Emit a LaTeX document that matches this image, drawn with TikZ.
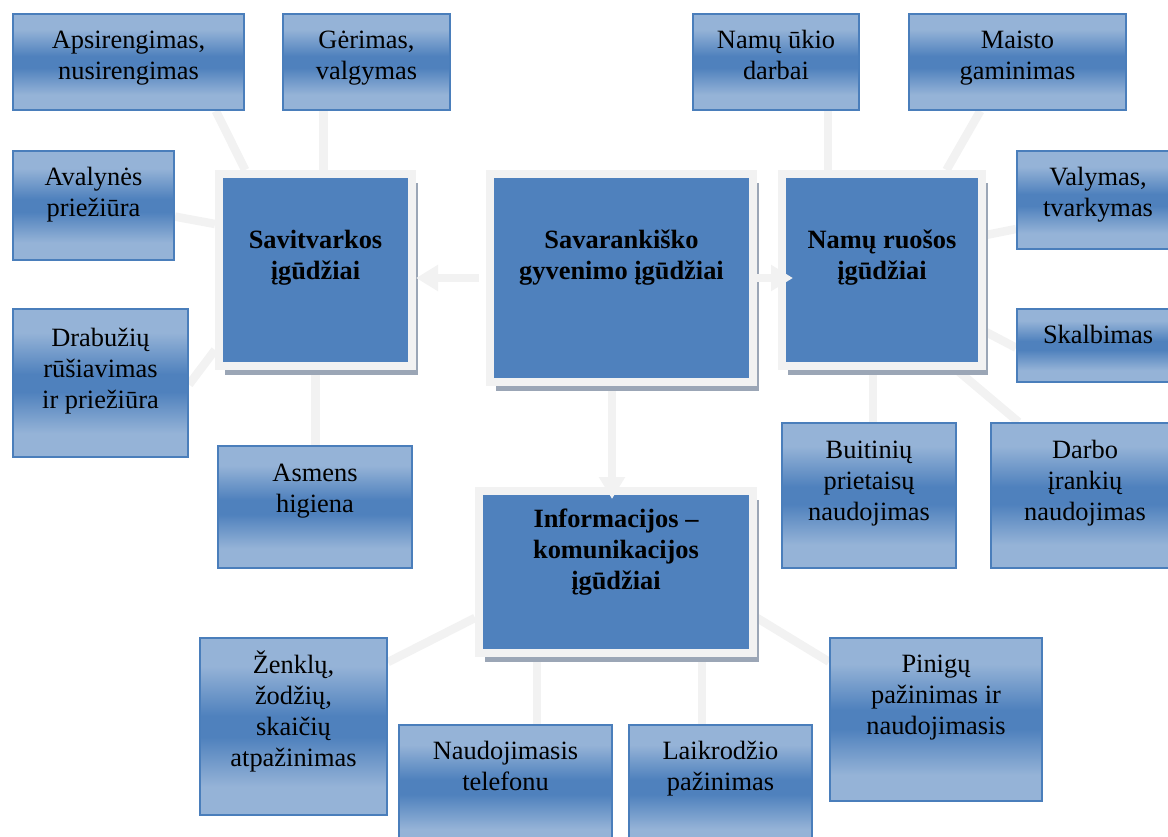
\documentclass[tikz,border=0pt]{standalone}
\usepackage{fontspec}
\setmainfont{Liberation Serif}
\usetikzlibrary{calc,shadows,arrows.meta}
\definecolor{leaftop}{HTML}{95B3D7}
\definecolor{leafmid}{HTML}{4F81BD}
\definecolor{leafline}{HTML}{4A7EBB}
\definecolor{mainc}{HTML}{4F81BD}
\definecolor{framec}{HTML}{F2F2F2}
\definecolor{shadowc}{HTML}{9BA6B6}
\pgfdeclareverticalshading{leafshade}{100bp}{color(0bp)=(leaftop); color(33bp)=(leaftop); color(47bp)=(leafmid); color(53bp)=(leafmid); color(67bp)=(leaftop); color(100bp)=(leaftop)}
\pgfdeclarelayer{background}
\pgfsetlayers{background,main}
\tikzset{
% Two box styles: gradient leaf boxes and framed skill boxes
leaf/.style={draw=leafline,line width=2pt,shading=leafshade,inner sep=0pt},
skill/.style={draw=framec,line width=8pt,fill=mainc,inner sep=0pt,
 drop shadow={shadow xshift=6pt,shadow yshift=-9pt,fill=shadowc,opacity=1}},
txt/.style={anchor=base,align=center,font=\fontsize{26.4}{31}\selectfont},
bold txt/.style={txt,font=\fontsize{26.4}{31}\selectfont\bfseries},
link/.style={draw=framec,line width=8.5pt},
big arrow/.style={draw=framec,line width=8pt,-{Triangle[length=22pt,width=25pt]}}
}
\begin{document}
\begin{tikzpicture}[x=1pt,y=-1pt]
\useasboundingbox (0,0) rectangle (1168,836);
% skill boxes
\node(savit)[skill,minimum width=193pt,minimum height=192pt,label={[bold txt,yshift=-109pt]north:{Savitvarkos\\ įgūdžiai}}] at (315.5,270) {};
\node(savar)[skill,minimum width=263pt,minimum height=208pt,label={[bold txt,yshift=-109pt]north:{Savarankiško\\ gyvenimo įgūdžiai}}] at (621.5,278) {};
\node(namu)[skill,minimum width=200pt,minimum height=192pt,label={[bold txt,yshift=-109pt]north:{Namų ruošos\\ įgūdžiai}}] at (882,270) {};
\node(info)[skill,minimum width=274pt,minimum height=162pt,label={[bold txt,yshift=-102pt]north:{Informacijos --\\ komunikacijos\\ įgūdžiai}}] at (616,572) {};
% leaf boxes
\node(apsi)[leaf,minimum width=231pt,minimum height=96pt,label={[txt,yshift=-66pt]north:{Apsirengimas,\\ nusirengimas}}] at (128.5,62) {};
\node(gerim)[leaf,minimum width=167pt,minimum height=96pt,label={[txt,yshift=-66pt]north:{Gėrimas,\\ valgymas}}] at (366.5,62) {};
\node(avaly)[leaf,minimum width=161pt,minimum height=109pt,label={[txt,yshift=-66pt]north:{Avalynės\\ priežiūra}}] at (93.5,205.5) {};
\node(drab)[leaf,minimum width=175pt,minimum height=148pt,label={[txt,yshift=-100pt]north:{Drabužių\\ rūšiavimas\\ ir priežiūra}}] at (100.5,383) {};
\node(asmens)[leaf,minimum width=194pt,minimum height=122pt,label={[txt,yshift=-67pt]north:{Asmens\\ higiena}}] at (315,507) {};
\node(zenkl)[leaf,minimum width=187pt,minimum height=177pt,label={[txt,yshift=-129pt]north:{Ženklų,\\ žodžių,\\ skaičių\\ atpažinimas}}] at (293.5,726.5) {};
\node(telef)[leaf,minimum width=213pt,minimum height=124pt,label={[txt,yshift=-66pt]north:{Naudojimasis\\ telefonu}}] at (505.5,787) {};
\node(laik)[leaf,minimum width=183pt,minimum height=124pt,label={[txt,yshift=-66pt]north:{Laikrodžio\\ pažinimas}}] at (720.5,787) {};
\node(pinig)[leaf,minimum width=212pt,minimum height=163pt,label={[txt,yshift=-97pt]north:{Pinigų\\ pažinimas ir\\ naudojimasis}}] at (936,719.5) {};
\node(namuk)[leaf,minimum width=166pt,minimum height=96pt,label={[txt,yshift=-66pt]north:{Namų ūkio\\ darbai}}] at (776,62) {};
\node(maist)[leaf,minimum width=217pt,minimum height=96pt,label={[txt,yshift=-66pt]north:{Maisto\\ gaminimas}}] at (1017.5,62) {};
\node(valym)[leaf,minimum width=162pt,minimum height=98pt,label={[txt,yshift=-66pt]north:{Valymas,\\ tvarkymas}}] at (1098,200) {};
\node(skalb)[leaf,minimum width=162pt,minimum height=73pt,label={[txt,yshift=-35pt]north:{Skalbimas}}] at (1098,345.5) {};
\node(buit)[leaf,minimum width=174pt,minimum height=145pt,label={[txt,yshift=-98pt]north:{Buitinių\\ prietaisų\\ naudojimas}}] at (869,495.5) {};
\node(darbo)[leaf,minimum width=188pt,minimum height=145pt,label={[txt,yshift=-98pt]north:{Darbo\\ įrankių\\ naudojimas}}] at (1085,495.5) {};
% connectors behind the boxes
\begin{pgfonlayer}{background}
\draw[link] ($(apsi.south west)!.875!(apsi.south east)$) -- ($(savit.north west)!.15!(savit.north east)$);
\draw[link] ($(savit.north west)!.54!(savit.north east)$) coordinate (s1) -- (s1 |- gerim.south);
\draw[link] ($(avaly.north east)!.6!(avaly.south east)$) -- ($(savit.north west)!.27!(savit.south west)$);
\draw[link] ($(drab.north east)!.51!(drab.south east)$) -- ($(savit.north west)!.9!(savit.south west)$);
\draw[link] (savit.south) -- (savit.south |- asmens.north);
\draw[link] ($(zenkl.north east)!.14!(zenkl.south east)$) -- ($(info.north west)!.77!(info.south west)$);
\draw[link] ($(info.south west)!.22!(info.south east)$) coordinate (i1) -- (i1 |- telef.north);
\draw[link] ($(info.south west)!.805!(info.south east)$) coordinate (i2) -- (i2 |- laik.north);
\draw[link] ($(info.north east)!.77!(info.south east)$) -- ($(pinig.north west)!.15!(pinig.south west)$);
\draw[link] ($(namu.north west)!.24!(namu.north east)$) coordinate (n1) -- (n1 |- namuk.south);
\draw[link] ($(maist.south west)!.33!(maist.south east)$) -- ($(namu.north west)!.81!(namu.north east)$);
\draw[link] ($(namu.north east)!.325!(namu.south east)$) -- ($(valym.north west)!.79!(valym.south west)$);
\draw[link] ($(namu.north east)!.81!(namu.south east)$) -- ($(skalb.north west)!.53!(skalb.south west)$);
\draw[link] ($(namu.south west)!.457!(namu.south east)$) coordinate (n2) -- (n2 |- buit.north);
\draw[link] ($(namu.south west)!.86!(namu.south east)$) -- ($(darbo.north west)!.15!(darbo.north east)$);
\end{pgfonlayer}
% arrows out of the centre box
\draw[big arrow,shorten <=7pt] (savar.west) -- (savar.west -| savit.east);
\draw[big arrow,shorten >=-15pt] (savar.east) -- (savar.east -| namu.west);
\draw[big arrow,shorten <=5pt,shorten >=-12pt] ($(savar.south west)!.465!(savar.south east)$) coordinate (a1) -- (a1 |- info.north);
\end{tikzpicture}
\end{document}
